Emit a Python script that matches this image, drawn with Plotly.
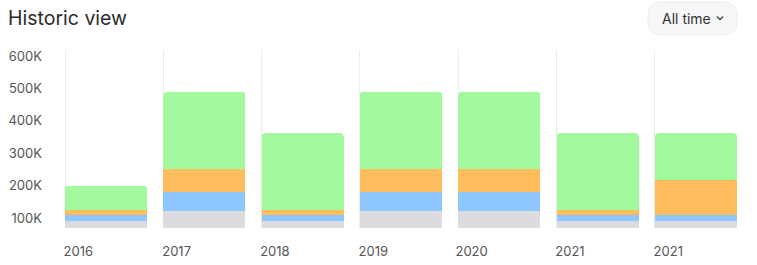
import plotly.graph_objects as go

years = ["2016", "2017", "2018", "2019", "2020", "2021", "2021"]
grey = [90000, 120000, 90000, 120000, 120000, 90000, 90000]
blue = [18000, 60000, 18000, 60000, 60000, 18000, 18000]
orange = [18000, 70000, 18000, 70000, 70000, 18000, 110000]
green = [74000, 240000, 236000, 240000, 240000, 236000, 144000]
y_ticks = [100000, 200000, 300000, 400000, 500000, 600000]
y_labels = ["100K", "200K", "300K", "400K", "500K", "600K"]

series = [
    ("Grey", grey, "#DBDBE0"),
    ("Blue", blue, "#8EC7FF"),
    ("Orange", orange, "#FFBD5E"),
    ("Green", green, "#A4F89D"),
]

pos = list(range(len(years)))
FONT = "Inter, Roboto, sans-serif"
STEP = 98.33

fig = go.Figure()
for name, vals, col in series:
    fig.add_trace(go.Bar(
        x=pos, y=vals, name=name, marker=dict(color=col, line=dict(width=0)),
        offset=0, width=82 / STEP, showlegend=False,
    ))

# geometry in pixels
W, H = 757, 265
L, R, T, B = 45, 17, 50, 37
pw, ph = W - L - R, H - T - B

def px(x):
    return (x - L) / pw

def py(y):
    return (H - B - y) / ph

# rounded pill button
x0, x1, y0, y1, r = 648, 737, 2, 35, 14
path = (
    f"M {px(x0 + r)} {py(y0)} L {px(x1 - r)} {py(y0)} "
    f"Q {px(x1)} {py(y0)} {px(x1)} {py(y0 + r)} "
    f"L {px(x1)} {py(y1 - r)} "
    f"Q {px(x1)} {py(y1)} {px(x1 - r)} {py(y1)} "
    f"L {px(x0 + r)} {py(y1)} "
    f"Q {px(x0)} {py(y1)} {px(x0)} {py(y1 - r)} "
    f"L {px(x0)} {py(y0 + r)} "
    f"Q {px(x0)} {py(y0)} {px(x0 + r)} {py(y0)} Z"
)
fig.add_shape(type="path", xref="paper", yref="paper", path=path,
              fillcolor="#F6F7F9", line=dict(color="#ECEDF0", width=1), layer="above")
# chevron
chev = f"M {px(717)} {py(16.5)} L {px(720)} {py(19.5)} L {px(723)} {py(16.5)}"
fig.add_shape(type="path", xref="paper", yref="paper", path=chev,
              line=dict(color="#444", width=1.3))

fig.add_annotation(text="All time", xref="paper", yref="paper", x=px(660), y=py(18.5),
                   xanchor="left", yanchor="middle", showarrow=False,
                   font=dict(family=FONT, size=14, color="#333"))
fig.add_annotation(text="Historic view", xref="paper", yref="paper", x=px(6), y=py(18),
                   xanchor="left", yanchor="middle", showarrow=False,
                   font=dict(family=FONT, size=19.5, color="#2b2b2b"))

x_start = -(65 - L) / STEP
fig.update_layout(
    width=W, height=H, margin=dict(l=L, r=R, t=T, b=B, autoexpand=False),
    barmode="stack", barcornerradius=4,
    plot_bgcolor="white", paper_bgcolor="white",
    font=dict(family=FONT, size=13, color="#555"),
    xaxis=dict(
        range=[x_start, x_start + pw / STEP],
        tickvals=[p + 0.135 for p in pos], ticktext=years,
        showgrid=False, zeroline=False, showline=False, ticks="",
        ticklabelstandoff=14, automargin=False,
        minor=dict(showgrid=True, dtick=1, tick0=0, gridcolor="#EBEBEB", gridwidth=1, ticks=""),
        tickfont=dict(family=FONT, size=13, color="#555"),
        fixedrange=True,
    ),
    yaxis=dict(
        range=[69000, 618500], tickvals=y_ticks, ticktext=y_labels,
        showgrid=False, zeroline=False, showline=False, ticks="",
        automargin=False, ticklabelstandoff=2,
        tickfont=dict(family=FONT, size=13, color="#555"),
        fixedrange=True,
    ),
)

fig.write_html("out.html")
